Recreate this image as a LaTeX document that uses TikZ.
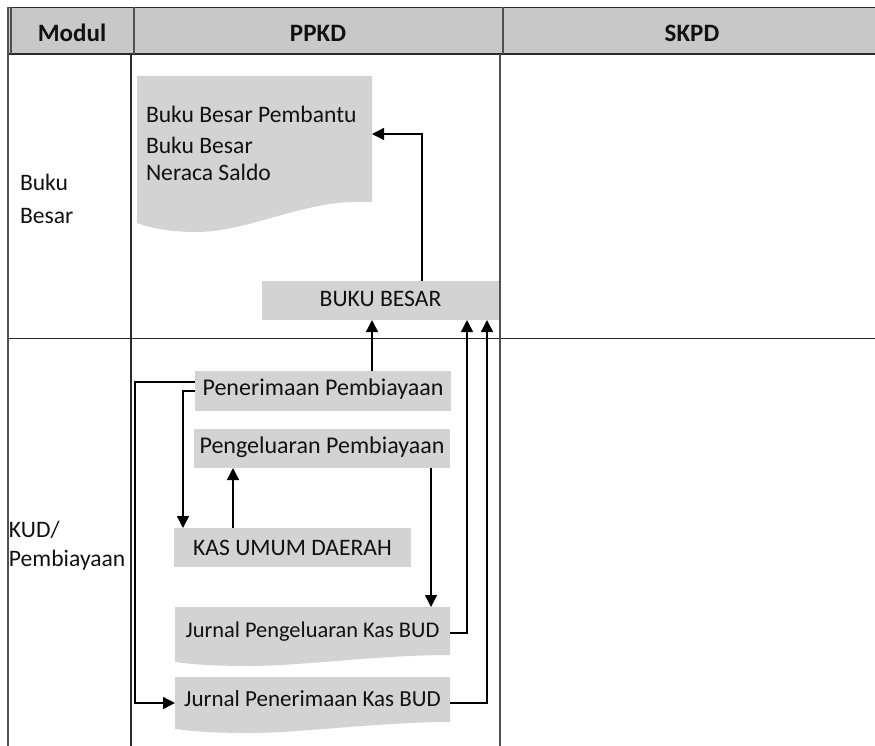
\documentclass[tikz,border=0pt]{standalone}
\usepackage{fontspec}
\setmainfont{Carlito}
\usetikzlibrary{arrows.meta,calc}
\definecolor{hdrgray}{HTML}{C8C8C8}
\definecolor{boxgray}{HTML}{D3D3D3}
\definecolor{ink}{HTML}{111111}
\definecolor{rulegray}{HTML}{505050}
\definecolor{ruledark}{HTML}{2A2A2A}
\begin{document}
\begin{tikzpicture}[x=1pt,y=-1pt,
  every node/.style={inner sep=0pt, outer sep=0pt, text=ink},
  bodytxt/.style={font=\fontsize{23.6}{28}\selectfont},
  hdrtxt/.style={font=\fontsize{25}{30}\selectfont\bfseries},
  greybox/.style={bodytxt, fill=boxgray, text height=15.2pt},
  docarea/.style={bodytxt, text height=15.2pt},
  arr/.style={draw=black, line width=1.4pt, -{Triangle[width=12pt,length=12pt]}}
]
\useasboundingbox (0,0) rectangle (875,746);

% header band
\fill[hdrgray] (8,7.5) rectangle (875,54);

% document shapes (drawn directly)
\fill[boxgray] (137,76) -- (372,76) -- (372,202) -- (353,202)
  .. controls (300,203) and (245,232) .. (197,232)
  .. controls (170,232) and (150,228) .. (137,223) -- cycle;
\fill[boxgray] (175,607) -- (450,607) -- (450,655)
  .. controls (380,655) and (300,666) .. (250,666)
  .. controls (210,666) and (190,664) .. (175,662) -- cycle;
\fill[boxgray] (175,677) -- (450,677) -- (450,722)
  .. controls (380,722) and (300,733) .. (250,733)
  .. controls (210,733) and (190,731) .. (175,729) -- cycle;

% table rules
\draw[ruledark, line width=1.6pt] (8,7.5) -- (875,7.5);
\draw[ruledark, line width=1.8pt] (8,54) -- (875,54);
\draw[ruledark, line width=1.4pt] (8,338.5) -- (875,338.5);
\draw[rulegray, line width=1.2pt] (8,7.5) -- (8,746);
\draw[rulegray, line width=1.2pt] (11,7.5) -- (11,54);
\draw[rulegray, line width=1.6pt] (134,7.5) -- (134,54);
\draw[rulegray, line width=1.6pt] (503,7.5) -- (503,54);
\draw[ruledark, line width=1.2pt] (131,54) -- (131,746);
\draw[rulegray, line width=1.8pt] (500,54) -- (500,746);

% header texts
\node[hdrtxt, anchor=base] (hmodul) at (72,42) {Modul};
\node[hdrtxt, anchor=base] (hppkd) at (318,42) {PPKD};
\node[hdrtxt, anchor=base] (hskpd) at (692,42) {SKPD};

% module labels
\node[bodytxt, anchor=base west] (mbuku) at (20,190.7) {Buku};
\node[bodytxt, anchor=base west] (mbesar) at (20,223) {Besar};
\node[bodytxt, anchor=base west] (mkud) at (9,537) {KUD/};
\node[bodytxt, anchor=base west] (mpemb) at (9,566.7) {Pembiayaan};

% document (Buku Besar outputs)
\node[minimum width=235pt, minimum height=116pt] (doc) at (254.5,134) {};
\node[bodytxt, anchor=base west] (docl1) at (146,123) {Buku Besar Pembantu};
\node[bodytxt, anchor=base west] (docl2) at (146,154) {Buku Besar};
\node[bodytxt, anchor=base west] (docl3) at (146,180.7) {Neraca Saldo};

% grey boxes
\node[greybox, minimum width=237pt, minimum height=39pt, text depth=2.8pt] (bb) at (380.5,300.5) {BUKU BESAR};
\node[greybox, minimum width=256pt, minimum height=40pt, text depth=5.8pt, font=\fontsize{24}{28}\selectfont] (pen) at (323,391) {Penerimaan Pembiayaan};
\node[greybox, minimum width=256pt, minimum height=39pt, text depth=5.6pt, font=\fontsize{24}{28}\selectfont] (peng) at (322,448.5) {Pengeluaran Pembiayaan};
\node[greybox, minimum width=237pt, minimum height=39pt, text depth=0.2pt] (kas) at (292.5,547.5) {KAS UMUM DAERAH};
\node[docarea, minimum width=275pt, minimum height=52pt, text depth=6.6pt, font=\fontsize{22.4}{27}\selectfont] (jpk) at (312.5,633) {Jurnal Pengeluaran Kas BUD};
\node[docarea, minimum width=275pt, minimum height=52pt, text depth=7.8pt, font=\fontsize{23}{27}\selectfont] (jpn) at (312.5,703) {Jurnal Penerimaan Kas BUD};

% connector coordinates
\coordinate (bbin1) at ([xshift=-8.5pt]bb.south);
\coordinate (bbin2) at ([xshift=86.5pt]bb.south);
\coordinate (bbin3) at ([xshift=106.5pt]bb.south);
\coordinate (kasin) at ([xshift=-109.5pt]kas.north);
\coordinate (pengin) at ([xshift=-89pt]peng.south);
\coordinate (jpkin) at ([xshift=118.5pt]jpk.north);
\coordinate (lft) at (135,382);

% connectors
\draw[arr] ([xshift=41.5pt]bb.north) |- (doc.east);
\draw[arr] (pen.north -| bbin1) -- (bbin1);
\draw[arr] (jpk.east) -| (bbin2);
\draw[arr] (jpn.east) -| (bbin3);
\draw[arr] (pen.west) -| (kasin);
\draw[arr] ([yshift=9pt]pen.west) -- (lft) |- (jpn.west);
\draw[arr] (kas.north -| pengin) -- (pengin);
\draw[arr] (peng.south -| jpkin) -- (jpkin);
\end{tikzpicture}
\end{document}
